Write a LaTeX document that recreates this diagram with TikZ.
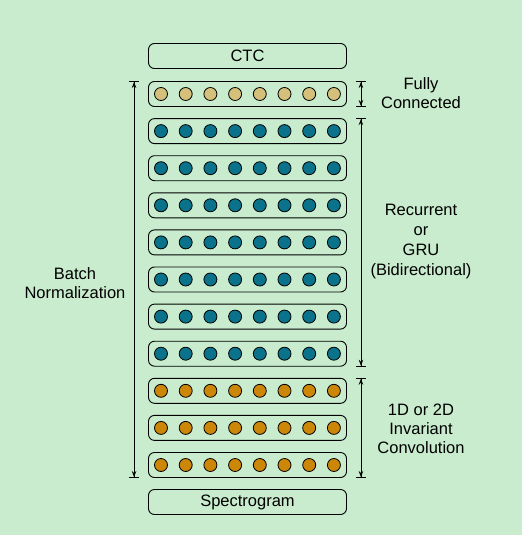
\documentclass[tikz,border=0pt]{standalone}
\usepackage{fontspec}
\setmainfont{Liberation Sans}
\usetikzlibrary{arrows.meta,positioning,calc}
\definecolor{bggreen}{RGB}{200,236,205}
\definecolor{fcc}{RGB}{212,192,122}
\definecolor{rnn}{RGB}{10,114,138}
\definecolor{cnv}{RGB}{204,134,8}

\begin{document}
\begin{tikzpicture}[x=1pt, y=-1pt,
  layer/.style={draw, rounded corners=6pt, minimum width=198pt, minimum height=25pt, fill=bggreen, line width=0.9pt, font=\fontsize{16.5}{19}\selectfont},
  unit/.style={circle, draw, fill=#1, minimum size=13pt, inner sep=0pt, line width=0.8pt},
  span/.style={{Bar[width=10pt,line width=0.9pt]Stealth[length=6pt,width=4.5pt]}-{Stealth[length=6pt,width=4.5pt]Bar[width=10pt,line width=0.9pt]}, line width=0.9pt},
  lbl/.style={align=center, font=\fontsize{16.5}{19.3}\selectfont}]
\fill[bggreen] (0,0) rectangle (522,535);
\node[layer] (ctc) at (247.5,56) {CTC};
\foreach \i/\c in {1/fcc,2/rnn,3/rnn,4/rnn,5/rnn,6/rnn,7/rnn,8/rnn,9/cnv,10/cnv,11/cnv} {
  \node[layer] (l\i) at (247.5,{94+37.1*(\i-1)}) {};
  \foreach \j in {1,...,8}
    \node[unit=\c] (u\i-\j) at ({161+24.7*(\j-1)},{94+37.1*(\i-1)}) {};
}
\node[layer] (spec) at (247.5,502) {Spectrogram};
% spans
\coordinate (bn1) at ([xshift=-14pt]l1.north west);
\coordinate (bn2) at ([xshift=-14pt]l11.south west);
\coordinate (fc1) at ([xshift=14pt]l1.north east);
\coordinate (fc2) at ([xshift=14pt]l1.south east);
\coordinate (rc1) at ([xshift=14pt]l2.north east);
\coordinate (rc2) at ([xshift=14pt]l8.south east);
\coordinate (cv1) at ([xshift=14pt]l9.north east);
\coordinate (cv2) at ([xshift=14pt]l11.south east);
\draw[span] (bn1) -- (bn2);
\draw[span] (fc1) -- (fc2);
\draw[span] (rc1) -- (rc2);
\draw[span] (cv1) -- (cv2);
\node[lbl] (bn) at (75,283) {Batch\\Normalization};
\node[lbl] (fc) at (421,93) {Fully\\Connected};
\node[lbl, font=\fontsize{16.5}{19.8}\selectfont] (rc) at (421,241.5) {Recurrent\\or\\GRU\\(Bidirectional)};
\node[lbl] (cv) at (421,429) {1D or 2D\\Invariant\\Convolution};
\end{tikzpicture}
\end{document}
